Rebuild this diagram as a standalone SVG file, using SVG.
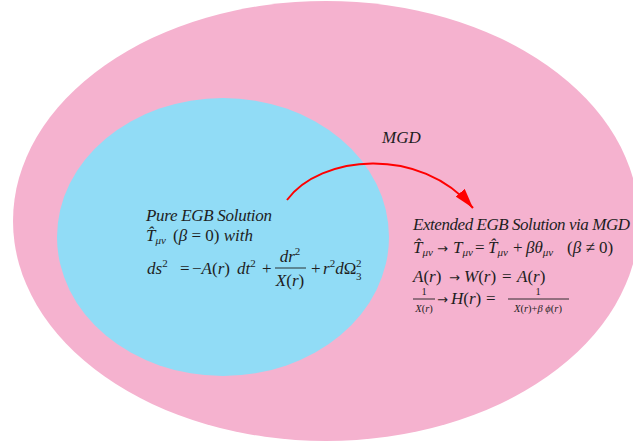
<svg xmlns="http://www.w3.org/2000/svg" width="633" height="447" viewBox="0 0 633 447">
<style>
.t{font-family:"Liberation Serif","DejaVu Serif",serif;font-size:17px;fill:#1e1e1e}
.i{font-style:italic}
.s{font-size:11px}
.f{font-size:10.5px}
.ar{font-family:"DejaVu Sans",sans-serif;font-size:13px}
.frac{stroke:#1e1e1e;stroke-width:0.9}
</style>
<defs>
<marker id="ah" markerUnits="userSpaceOnUse" markerWidth="22" markerHeight="12" refX="20" refY="6" orient="auto">
<path d="M0,0 L20,6 L0,12 z" fill="#ff0000"/>
</marker>
</defs>
<rect width="633" height="447" fill="#ffffff"/>
<g id="extended">
<ellipse cx="326" cy="221" rx="313" ry="220" fill="#f5b2cf"/>
<text class="t i" x="413" y="230" textLength="217">Extended EGB Solution via MGD</text>
<text class="t" y="253"><tspan class="i" x="413">T̂</tspan><tspan class="i s" dy="3">μν</tspan><tspan class="ar" x="437" dy="-3">→</tspan><tspan class="i" x="453">T</tspan><tspan class="i s" dy="3">μν</tspan><tspan x="475" dy="-3">=</tspan><tspan class="i" x="488">T̂</tspan><tspan class="i s" dy="3">μν</tspan><tspan x="513" dy="-3">+</tspan><tspan class="i" x="526">βθ</tspan><tspan class="i s" dy="3">μν</tspan><tspan x="567" dy="-3">(</tspan><tspan class="i">β</tspan><tspan> ≠ 0)</tspan></text>
<text class="t" y="282"><tspan class="i" x="413">A</tspan><tspan>(</tspan><tspan class="i">r</tspan><tspan>)</tspan><tspan class="ar" x="449">→</tspan><tspan class="i" x="464">W</tspan><tspan>(</tspan><tspan class="i">r</tspan><tspan>)</tspan><tspan x="502">=</tspan><tspan class="i" x="517">A</tspan><tspan>(</tspan><tspan class="i">r</tspan><tspan>)</tspan></text>
<text class="t f" x="424" y="295" text-anchor="middle">1</text>
<line class="frac" x1="413" y1="299" x2="435" y2="299"/>
<text class="t f" x="424" y="312" text-anchor="middle"><tspan class="i">X</tspan>(<tspan class="i">r</tspan>)</text>
<text class="t" y="304"><tspan class="ar" x="437">→</tspan><tspan class="i" x="451">H</tspan><tspan>(</tspan><tspan class="i">r</tspan><tspan>)</tspan><tspan x="486">=</tspan></text>
<text class="t f" x="538" y="295" text-anchor="middle">1</text>
<line class="frac" x1="508" y1="299" x2="569" y2="299"/>
<text class="t f" x="538" y="312" text-anchor="middle"><tspan class="i">X</tspan>(<tspan class="i">r</tspan>)+<tspan class="i">β ϕ</tspan>(<tspan class="i">r</tspan>)</text>
</g>
<g id="pure">
<ellipse cx="223" cy="237" rx="166" ry="139" fill="#91dcf6"/>
<text class="t i" x="146" y="221" textLength="126">Pure EGB Solution</text>
<text class="t" y="241"><tspan class="i" x="146">T̂</tspan><tspan class="i s" dy="3">μν</tspan><tspan dy="-3" x="173">(</tspan><tspan class="i">β</tspan><tspan> = 0) </tspan><tspan class="i">with</tspan></text>
<text class="t" y="274"><tspan class="i" x="147">ds</tspan><tspan class="s" dy="-7">2</tspan><tspan x="180" dy="7">=</tspan><tspan x="192">−</tspan><tspan class="i">A</tspan><tspan>(</tspan><tspan class="i">r</tspan><tspan>)</tspan><tspan class="i" x="237">dt</tspan><tspan class="s" dy="-7">2</tspan><tspan x="262" dy="7">+</tspan><tspan x="311">+</tspan><tspan class="i" x="323">r</tspan><tspan class="s" dy="-7">2</tspan><tspan class="i" dy="7">d</tspan><tspan>Ω</tspan></text>
<text class="t s" x="356" y="267">2</text>
<text class="t s" x="356" y="280">3</text>
<text class="t" x="290" y="262" text-anchor="middle"><tspan class="i">dr</tspan><tspan class="s" dy="-7">2</tspan></text>
<line class="frac" x1="275" y1="268" x2="306" y2="268"/>
<text class="t" x="290" y="286" text-anchor="middle"><tspan class="i">X</tspan>(<tspan class="i">r</tspan>)</text>
</g>
<g id="connectors">
<path d="M287,200 C320,155 420,145 473,208" fill="none" stroke="#ff0000" stroke-width="2" marker-end="url(#ah)"/>
<text class="t i" x="382" y="143">MGD</text>
</g>
</svg>
